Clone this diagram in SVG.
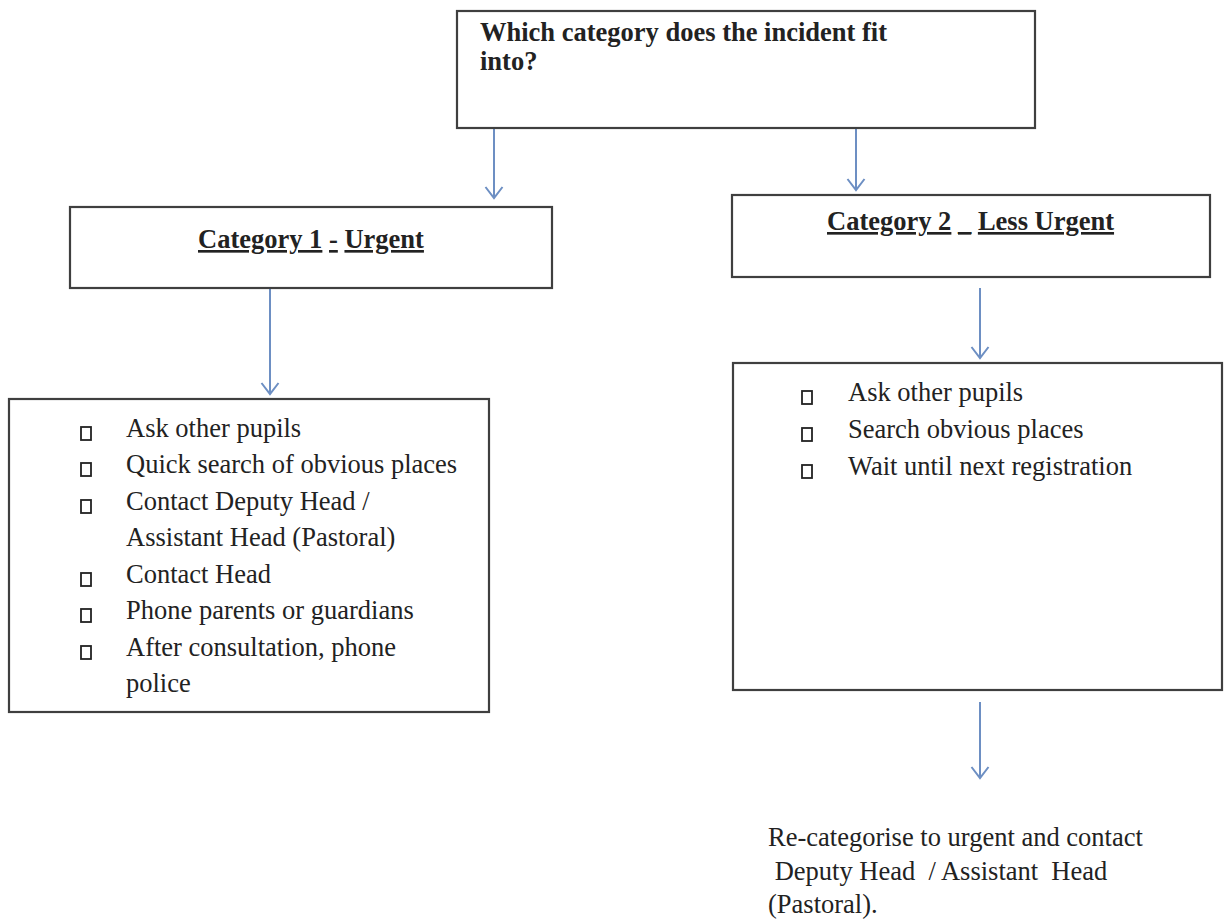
<svg xmlns="http://www.w3.org/2000/svg" width="1227" height="923" viewBox="0 0 1227 923">
<style>
.box{fill:#fff;stroke:#3f3f3f;stroke-width:2.2}
.t{font-family:"Liberation Serif","Times New Roman",serif;font-size:26.5px;fill:#222}
.b{font-weight:bold}
.u{text-decoration:underline}
.bul{fill:none;stroke:#222;stroke-width:1.8}
.arr{stroke:#6d8fc3;stroke-width:2;fill:none;marker-end:url(#ah)}
</style>
<defs>
<marker id="ah" viewBox="0 0 20 20" refX="18" refY="10" markerWidth="20" markerHeight="20" markerUnits="userSpaceOnUse" orient="auto">
<path d="M7,1.5 L18,10 L7,18.5" fill="none" stroke="#6d8fc3" stroke-width="2"/>
</marker>
</defs>
<rect width="1227" height="923" fill="#fff"/>

<g id="connectors">
<line class="arr" x1="494" y1="128" x2="494" y2="198"/>
<line class="arr" x1="856" y1="128" x2="856" y2="190"/>
<line class="arr" x1="270" y1="288" x2="270" y2="394"/>
<line class="arr" x1="980" y1="288" x2="980" y2="358"/>
<line class="arr" x1="980" y1="702" x2="980" y2="778"/>
</g>

<g id="question">
<rect class="box" x="457" y="11" width="578" height="117"/>
<text class="t b" x="480" y="41">Which category does the incident fit</text>
<text class="t b" x="480" y="70">into?</text>
</g>

<g id="cat1">
<rect class="box" x="70" y="207" width="482" height="81"/>
<text class="t b" x="198" y="248"><tspan class="u">Category 1</tspan> <tspan class="u">-</tspan> <tspan class="u">Urgent</tspan></text>
</g>

<g id="cat2">
<rect class="box" x="732" y="195" width="478" height="82"/>
<text class="t b" x="827" y="230"><tspan class="u">Category 2</tspan> <tspan class="u">_</tspan> <tspan class="u">Less Urgent</tspan></text>
</g>

<g id="cat1-actions">
<rect class="box" x="9" y="399" width="480" height="313"/>
<rect class="bul" x="81" y="427" width="10" height="13"/>
<rect class="bul" x="81" y="463" width="10" height="13"/>
<rect class="bul" x="81" y="500" width="10" height="13"/>
<rect class="bul" x="81" y="573" width="10" height="13"/>
<rect class="bul" x="81" y="609" width="10" height="13"/>
<rect class="bul" x="81" y="646" width="10" height="13"/>
<text class="t" x="126" y="437">Ask other pupils</text>
<text class="t" x="126" y="473">Quick search of obvious places</text>
<text class="t" x="126" y="510">Contact Deputy Head /</text>
<text class="t" x="126" y="546">Assistant Head (Pastoral)</text>
<text class="t" x="126" y="583">Contact Head</text>
<text class="t" x="126" y="619">Phone parents or guardians</text>
<text class="t" x="126" y="656">After consultation, phone</text>
<text class="t" x="126" y="692">police</text>
</g>

<g id="cat2-actions">
<rect class="box" x="733" y="363" width="489" height="327"/>
<rect class="bul" x="802" y="391" width="10" height="13"/>
<rect class="bul" x="802" y="428" width="10" height="13"/>
<rect class="bul" x="802" y="465" width="10" height="13"/>
<text class="t" x="848" y="401">Ask other pupils</text>
<text class="t" x="848" y="438">Search obvious places</text>
<text class="t" x="848" y="475">Wait until next registration</text>
</g>

<g id="recategorise">
<text class="t" x="768" y="846">Re-categorise to urgent and contact</text>
<text class="t" x="768" y="880" xml:space="preserve"> Deputy Head  / Assistant  Head</text>
<text class="t" x="768" y="913">(Pastoral).</text>
</g>
</svg>
